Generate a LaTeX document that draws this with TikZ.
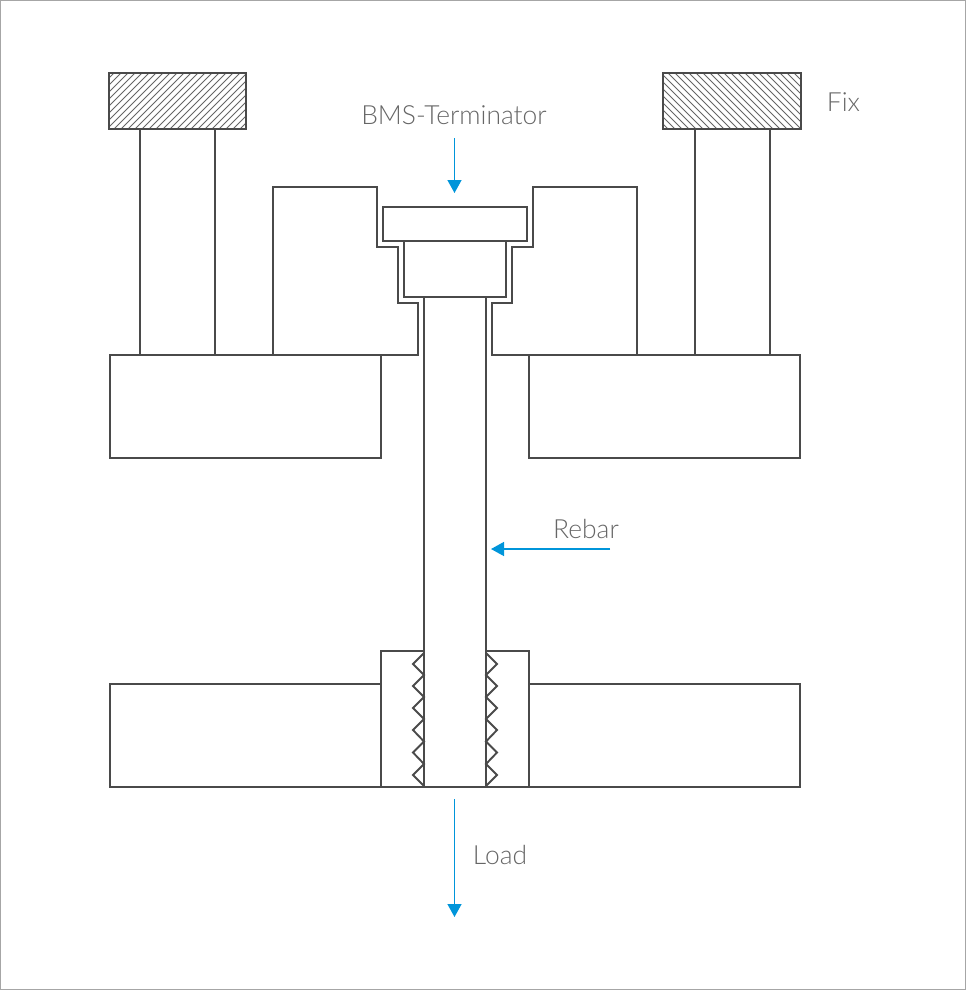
\documentclass[tikz,border=0pt]{standalone}
\usepackage{fontspec}
\setmainfont{Lato Light}
\usetikzlibrary{arrows.meta}
\definecolor{ink}{HTML}{4A4A4A}
\definecolor{labelgray}{HTML}{666666}
\definecolor{framegray}{HTML}{A6A6A6}
\definecolor{arrowblue}{HTML}{0095DA}
\tikzset{
  part/.style={draw=ink,line width=1.9pt,line join=miter,fill=white},
  edge/.style={draw=ink,line width=1.9pt,line join=miter},
  hatchline/.style={draw=ink!85,line width=0.8pt},
  flow/.style={draw=arrowblue,line width=1.4pt,-{Triangle[length=13pt,width=14pt]}},
  tag/.style={text=labelgray,font=\fontsize{26.4pt}{27pt}\selectfont,inner sep=0pt,anchor=base}
}
\begin{document}
\begin{tikzpicture}[x=1pt,y=-1pt]
\useasboundingbox (0,0) rectangle (966,990);
\draw[framegray,line width=1pt] (0.5,0.5) rectangle (965.5,989.5);
% fixed blocks
\begin{scope}
\clip (109,73) rectangle (246,129);
\foreach \k in {0,7,...,217}{\draw[hatchline] (36+\k,137) -- (36+\k+72,65);}
\end{scope}
\begin{scope}
\clip (663,73) rectangle (801,129);
\foreach \k in {0,7,...,217}{\draw[hatchline] (590+\k,65) -- (590+\k+72,137);}
\end{scope}
\draw[edge] (109,73) rectangle (246,129);
\draw[edge] (663,73) rectangle (801,129);
% columns
\draw[edge] (140,129) -- (140,355) (215,129) -- (215,355);
\draw[edge] (695,129) -- (695,355) (770,129) -- (770,355);
% clamp blocks
\draw[edge] (273,355) -- (273,187) -- (377,187) -- (377,247) -- (398,247) -- (398,303) -- (418,303) -- (418,355) -- cycle;
\draw[edge] (637,355) -- (637,187) -- (533,187) -- (533,247) -- (512,247) -- (512,303) -- (492,303) -- (492,355) -- cycle;
% upper plates
\draw[edge] (110,355) rectangle (381,458);
\draw[edge] (529,355) rectangle (800,458);
% lower plates and sleeve
\draw[edge] (110,684) rectangle (381,787);
\draw[edge] (529,684) rectangle (800,787);
\draw[edge] (381,651) rectangle (529,787);
% terminator
\draw[part] (383,207) rectangle (527,241);
\draw[part] (404,241) rectangle (506,297);
% rebar
\draw[part] (424,297) rectangle (486,787);
% threads
\draw[edge,line join=miter] (424,653) -- (413,664) -- (424,675) -- (413,686) -- (424,697) -- (413,708) -- (424,719) -- (413,730) -- (424,741.5) -- (413,752.5) -- (424,764) -- (413,775) -- (424,786);
\draw[edge,line join=miter] (486,653) -- (497,664) -- (486,675) -- (497,686) -- (486,697) -- (497,708) -- (486,719) -- (497,730) -- (486,741.5) -- (497,752.5) -- (486,764) -- (497,775) -- (486,786);
% labels
\node[tag] (bms) at (454,124) {BMS-Terminator};
\node[tag] (fix) at (843.5,111) {Fix};
\node[tag] (rebar) at (586,538) {Rebar};
\node[tag] (load) at (500,864) {Load};
% arrows
\coordinate (bmsA) at (454.5,138); \coordinate (bmsB) at (454.5,193);
\coordinate (rebarA) at (610,549); \coordinate (rebarB) at (491,549);
\coordinate (loadA) at (454.5,799); \coordinate (loadB) at (454.5,917);
\draw[flow] (bmsA) -- (bmsB);
\draw[flow] (rebarA) -- (rebarB);
\draw[flow] (loadA) -- (loadB);
\end{tikzpicture}
\end{document}
